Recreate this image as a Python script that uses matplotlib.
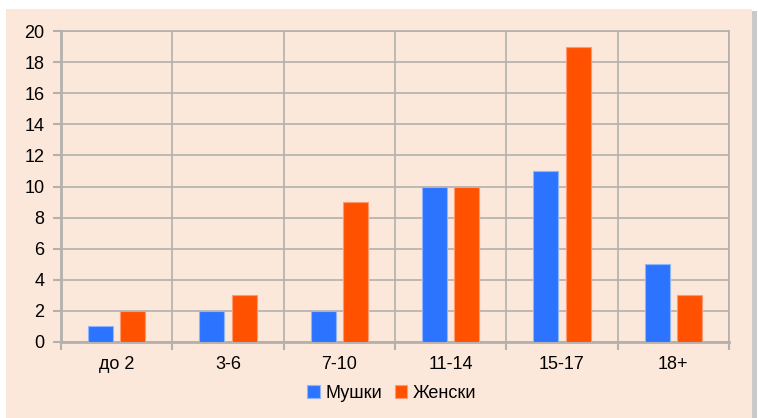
import matplotlib.pyplot as plt
import matplotlib.patches as patches
import numpy as np
from matplotlib import font_manager

# податоци
categories = ["до 2", "3-6", "7-10", "11-14", "15-17", "18+"]
muski = [1, 2, 2, 10, 11, 5]
zenski = [2, 3, 9, 10, 19, 3]

names = [f.name for f in font_manager.fontManager.ttflist]
fam = "Liberation Sans Narrow" if "Liberation Sans Narrow" in names else "Liberation Sans"
plt.rcParams['font.family'] = [fam, 'DejaVu Sans']

bg = "#FCE8DA"
blue = "#2C74FF"
orange = "#FF5100"
grid = "#B3B0AD"

fig = plt.figure(figsize=(7.58, 4.18), dpi=100)
fig.patch.set_facecolor("white")

# рамка со сенка
W, H = 758, 418
shadow = patches.Rectangle((9 / W, 0), 748 / W, 407 / H, transform=fig.transFigure,
                           facecolor="#C9C9C9", edgecolor="none", zorder=0)
frame = patches.Rectangle((6 / W, 0), 746 / W, 409 / H, transform=fig.transFigure,
                          facecolor=bg, edgecolor="none", zorder=1)
fig.patches.extend([shadow, frame])

ax = fig.add_axes([61 / W, 1 - 342 / H, 668 / W, 311 / H])
ax.set_facecolor(bg)
ax.set_zorder(2)

x = np.arange(len(categories))
bw = 0.225
ax.bar(x - 0.145, muski, bw, color=blue, edgecolor="#8FB5FF", linewidth=0.8, label="Мушки", zorder=3)
ax.bar(x + 0.145, zenski, bw, color=orange, edgecolor="#FF9A70", linewidth=0.8, label="Женски", zorder=3)

ax.set_xlim(-0.5, len(categories) - 0.5)
ax.set_ylim(0, 20)
ax.set_yticks(range(0, 21, 2))
ax.set_xticks(x)
ax.set_xticklabels(categories)
ax.set_xticks(np.arange(-0.5, len(categories), 1), minor=True)

ax.grid(axis="y", color=grid, linewidth=1.2, zorder=0)
ax.grid(axis="x", which="minor", color=grid, linewidth=1.2, zorder=0)
ax.tick_params(axis="x", which="major", length=0, pad=10, labelsize=13)
ax.tick_params(axis="x", which="minor", length=6, width=1.5, color=grid, direction="out")
ax.tick_params(axis="y", length=6, width=1.5, color=grid, labelsize=13, pad=6)

for s in ["top", "right"]:
    ax.spines[s].set_color(grid)
    ax.spines[s].set_linewidth(1.2)
for s in ["left", "bottom"]:
    ax.spines[s].set_color(grid)
    ax.spines[s].set_linewidth(2)

leg = ax.legend(loc="center", bbox_to_anchor=(0.495, -0.165), ncol=2, frameon=False,
                fontsize=13, handlelength=0.7, handleheight=0.7, handletextpad=0.3,
                columnspacing=0.7)

fig.savefig("out.png", dpi=100, facecolor=fig.get_facecolor())
